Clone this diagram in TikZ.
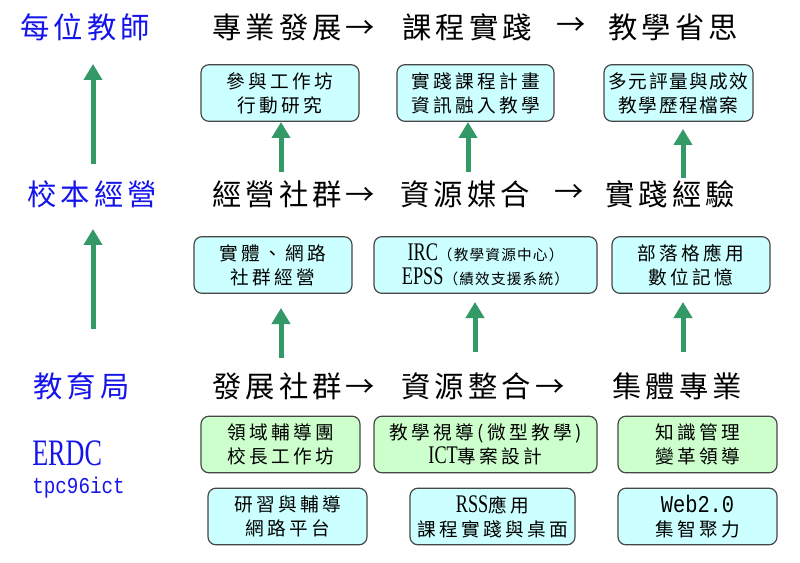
\documentclass[tikz,border=0pt]{standalone}
\usepackage{fontspec}
\setmainfont{Noto Sans CJK TC}
\newfontfamily\cjkbig[LetterSpace=14]{Noto Sans CJK TC}
\newfontfamily\cjkbox[LetterSpace=18]{Noto Sans CJK TC}
\newfontfamily\cjksmall[LetterSpace=8]{Noto Sans CJK TC}
\newfontfamily\latn[FakeStretch=0.72]{Liberation Serif}
\newfontfamily\erdcfont[FakeStretch=0.7]{Liberation Serif}
\newfontfamily\monofnt[FakeStretch=0.85]{Liberation Mono}
\usetikzlibrary{arrows.meta}
\definecolor{arrgreen}{RGB}{51,153,102}
\definecolor{labelblue}{RGB}{20,20,235}
\definecolor{cyanfill}{RGB}{204,255,255}
\definecolor{greenfill}{RGB}{204,255,204}
\definecolor{boxline}{RGB}{70,70,70}
\begin{document}
\begin{tikzpicture}[x=0.75pt,y=-0.75pt,
  big/.style={font=\cjkbig\fontsize{22pt}{26pt}\selectfont, inner sep=0pt, anchor=west},
  bluebig/.style={big, text=labelblue},
  cbox/.style={draw=boxline, line width=0.9pt, rounded corners=6pt, fill=cyanfill,
    align=center, font=\cjkbox\fontsize{14pt}{18pt}\selectfont, inner sep=0pt,
    minimum height=42.5pt},
  gbox/.style={cbox, fill=greenfill},
  up/.style={draw=arrgreen, line width=3.75pt, -{Triangle[width=13.5pt,length=12pt]}}
]
\useasboundingbox (0,0) rectangle (800,563);
\fill[white] (0,0) rectangle (800,563);

% left column labels
\node[bluebig] (l1) at (20,27) {每位教師};
\node[bluebig] (l2) at (27,194) {校本經營};
\node[bluebig] (l3) at (33,386) {教育局};
\node[anchor=base west, inner sep=0pt, text=labelblue, font=\erdcfont\fontsize{28pt}{30pt}\selectfont] (erdc) at (32,465) {ERDC};
\node[anchor=base west, inner sep=0pt, text=labelblue, font=\monofnt\fontsize{17pt}{20pt}\selectfont] (tpc) at (32,493) {tpc96ict};

% row 1 headings
\node[big] (t11) at (212,27) {專業發展→};
\node[big] (t12) at (402,27) {課程實踐};
\node[big] (t1a) at (556,27) {→};
\node[big] (t13) at (608,27) {教學省思};

% row 2 headings
\node[big] (t21) at (212,194) {經營社群→};
\node[big] (t22) at (400,194) {資源媒合};
\node[big] (t2a) at (554,194) {→};
\node[big] (t23) at (605,194) {實踐經驗};

% row 3 headings
\node[big] (t31) at (212,386) {發展社群→};
\node[big] (t32) at (401,386) {資源整合→};
\node[big] (t33) at (612,386) {集體專業};

% row 1 boxes
\node[cbox, minimum width=118.5pt] (b11) at (280,93) {參與工作坊\\行動研究};
\node[cbox, minimum width=117.75pt] (b12) at (475.5,93) {實踐課程計畫\\資訊融入教學};
\node[cbox, minimum width=111.75pt, font=\cjksmall\fontsize{14pt}{18pt}\selectfont] (b13) at (678.5,93) {多元評量與成效\\教學歷程檔案};

% row 2 boxes
\node[cbox, minimum width=118.5pt] (b21) at (273,265) {實體、網路\\社群經營};
\node[cbox, minimum width=167.25pt] (b22) at (485.5,265)
  {{\latn\fontsize{19pt}{18pt}\selectfont IRC}{\cjksmall\fontsize{11pt}{18pt}\selectfont （教學資源中心）}\\
   {\latn\fontsize{19pt}{18pt}\selectfont EPSS}{\cjksmall\fontsize{11pt}{18pt}\selectfont （績效支援系統）}};
\node[cbox, minimum width=118.5pt] (b23) at (691,265) {部落格應用\\數位記憶};

% row 3 boxes (green)
\node[gbox, minimum width=119.25pt] (g1) at (280.5,444.5) {領域輔導團\\校長工作坊};
\node[gbox, minimum width=167.25pt] (g2) at (485.5,444.5) {教學視導(微型教學)\\{\latn\fontsize{19pt}{18pt}\selectfont ICT}專案設計};
\node[gbox, minimum width=119.25pt] (g3) at (697.5,444.5) {知識管理\\變革領導};

% row 4 boxes (cyan)
\node[cbox, minimum width=119.25pt] (c1) at (287.5,516.5) {研習與輔導\\網路平台};
\node[cbox, minimum width=123.75pt] (c2) at (492.5,516.5) {{\latn\fontsize{19pt}{18pt}\selectfont RSS}應用\\課程實踐與桌面};
\node[cbox, minimum width=119.25pt] (c3) at (697.5,516.5) {{\monofnt\fontsize{18pt}{18pt}\selectfont Web2.0}\\集智聚力};

% arrow end points
\coordinate (a1s) at (93,164);  \coordinate (a1e) at (93,64);
\coordinate (a2s) at (93,329);  \coordinate (a2e) at (93,229);
\coordinate (r11s) at (281,172); \coordinate (r11e) at (281,122);
\coordinate (r12s) at (468,172); \coordinate (r12e) at (468,122);
\coordinate (r13s) at (683,178); \coordinate (r13e) at (683,129);
\coordinate (r21s) at (281,358); \coordinate (r21e) at (281,308);
\coordinate (r22s) at (475,352); \coordinate (r22e) at (475,302);
\coordinate (r23s) at (683,352); \coordinate (r23e) at (683,302);

\draw[up] (a1s) -- (a1e);
\draw[up] (a2s) -- (a2e);
\draw[up] (r11s) -- (r11e);
\draw[up] (r12s) -- (r12e);
\draw[up] (r13s) -- (r13e);
\draw[up] (r21s) -- (r21e);
\draw[up] (r22s) -- (r22e);
\draw[up] (r23s) -- (r23e);
\end{tikzpicture}
\end{document}
